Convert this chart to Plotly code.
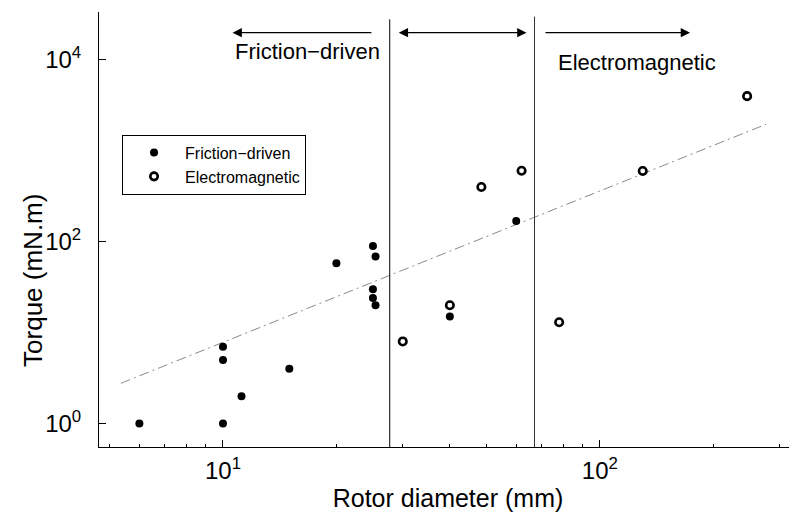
import numpy as np
import plotly.graph_objects as go

# ---- data ----
fric_x = [6, 10, 11.2, 15, 10, 10, 20, 25, 25.4, 25, 25, 25.4, 40, 60]
fric_y = [1.0, 1.0, 2.0, 4.0, 5.0, 7.0, 58, 90, 69, 30, 24, 20, 15, 169]

em_x = [30, 40, 48.5, 62, 78, 130, 246]
em_y = [8.0, 20, 400, 605, 13, 600, 4000]

trend_x = [5.36, 276]
trend_y = [2.77, 1960]

bound1_x = [27.7, 27.7]
bound1_y = [0.55, 2.8e4]
bound2_x = [67.1, 67.1]
bound2_y = [0.55, 3.0e4]

arrow_y = 2.0e4
arrow_left = (25.0, 10.6)      # tail, head
arrow_mid = (29.0, 63.9)
arrow_right = (71.1, 173.6)

label_fric = ("Friction\u2212driven", 10.65, 12250)
label_em = ("Electromagnetic", 76.6, 9500)

x_tickvals = [10, 100]
x_ticktext = ["10<sup>1</sup>", "10<sup>2</sup>"]
x_minor = [5, 6, 7, 8, 9, 20, 30, 40, 50, 60, 70, 80, 90, 200, 300]
y_tickvals = [1, 100, 10000]
y_ticktext = ["10<sup>0</sup>", "10<sup>2</sup>", "10<sup>4</sup>"]

FONT = "Liberation Sans, Arial, Helvetica, sans-serif"

fig = go.Figure()

fig.add_trace(go.Scatter(x=trend_x, y=trend_y, mode="lines", showlegend=False,
                         line=dict(color="#8a8a8a", width=1, dash="10px,4px,2px,4px"),
                         hoverinfo="skip"))
fig.add_trace(go.Scatter(x=bound1_x, y=bound1_y, mode="lines", showlegend=False,
                         line=dict(color="black", width=1), hoverinfo="skip"))
fig.add_trace(go.Scatter(x=bound2_x, y=bound2_y, mode="lines", showlegend=False,
                         line=dict(color="#333333", width=1), hoverinfo="skip"))

fig.add_trace(go.Scatter(x=fric_x, y=fric_y, mode="markers", name="Friction\u2212driven",
                         marker=dict(symbol="circle", size=8, color="black")))
fig.add_trace(go.Scatter(x=em_x, y=em_y, mode="markers", name="Electromagnetic",
                         marker=dict(symbol="circle-open", size=7.5,
                                     color="black", line=dict(width=2.6, color="black"))))

def arrow(tail, head, both=False):
    return dict(x=np.log10(head), y=np.log10(arrow_y), ax=np.log10(tail), ay=np.log10(arrow_y),
                xref="x", yref="y", axref="x", ayref="y", text="", showarrow=True,
                arrowhead=2, arrowsize=1.7, arrowwidth=1.1, arrowcolor="black",
                arrowside="end+start" if both else "end", startarrowhead=2, startarrowsize=1.7)

annotations = [
    arrow(arrow_left[0], arrow_left[1]),
    arrow(arrow_mid[0], arrow_mid[1], both=True),
    arrow(arrow_right[0], arrow_right[1]),
]
for txt, lx, ly in (label_fric, label_em):
    annotations.append(dict(x=np.log10(lx), y=np.log10(ly), xref="x", yref="y", text=txt,
                            showarrow=False, xanchor="left", yanchor="middle",
                            font=dict(family=FONT, size=22, color="black")))

# y-axis title, placed where the reference shows it (slightly below the axis centre)
annotations.append(dict(x=-0.0946, y=0.384, xref="paper", yref="paper", text="Torque (mN.m)",
                        textangle=-90, showarrow=False, xanchor="center", yanchor="middle",
                        font=dict(family=FONT, size=26, color="black")))

# the page body adds an 8px offset; the figure is sized so that the plot lands
# where the reference has it (axes at x=99..797, y=12..447 in the window)
fig.update_layout(
    width=789, height=510,
    margin=dict(l=91, r=0, t=4, b=71),
    paper_bgcolor="white", plot_bgcolor="white",
    font=dict(family=FONT, color="black", size=22),
    annotations=annotations,
    legend=dict(x=0.033, y=0.718, xanchor="left", yanchor="top",
                bordercolor="black", borderwidth=1, bgcolor="white",
                font=dict(family=FONT, size=16, color="black"), itemwidth=52,
                tracegroupgap=0),
    xaxis=dict(type="log", range=[0.671, 2.5233], showline=True, linecolor="black", linewidth=1,
               ticks="inside", ticklen=7, tickcolor="black", tickvals=x_tickvals, ticktext=x_ticktext,
               minor=dict(ticks="inside", ticklen=3.5, tickcolor="black", tickvals=x_minor),
               showgrid=False, zeroline=False, mirror=False, automargin=False,
               tickfont=dict(family=FONT, size=24), ticklabelstandoff=2,
               title=dict(text="Rotor diameter (mm)", font=dict(family=FONT, size=25), standoff=6)),
    yaxis=dict(type="log", range=[-0.2585, 4.528], showline=True, linecolor="black", linewidth=1,
               ticks="inside", ticklen=7, tickcolor="black", tickvals=y_tickvals, ticktext=y_ticktext,
               showgrid=False, zeroline=False, mirror=False, automargin=False,
               tickfont=dict(family=FONT, size=24), ticklabelstandoff=12),
)

fig.write_html("out.html")
